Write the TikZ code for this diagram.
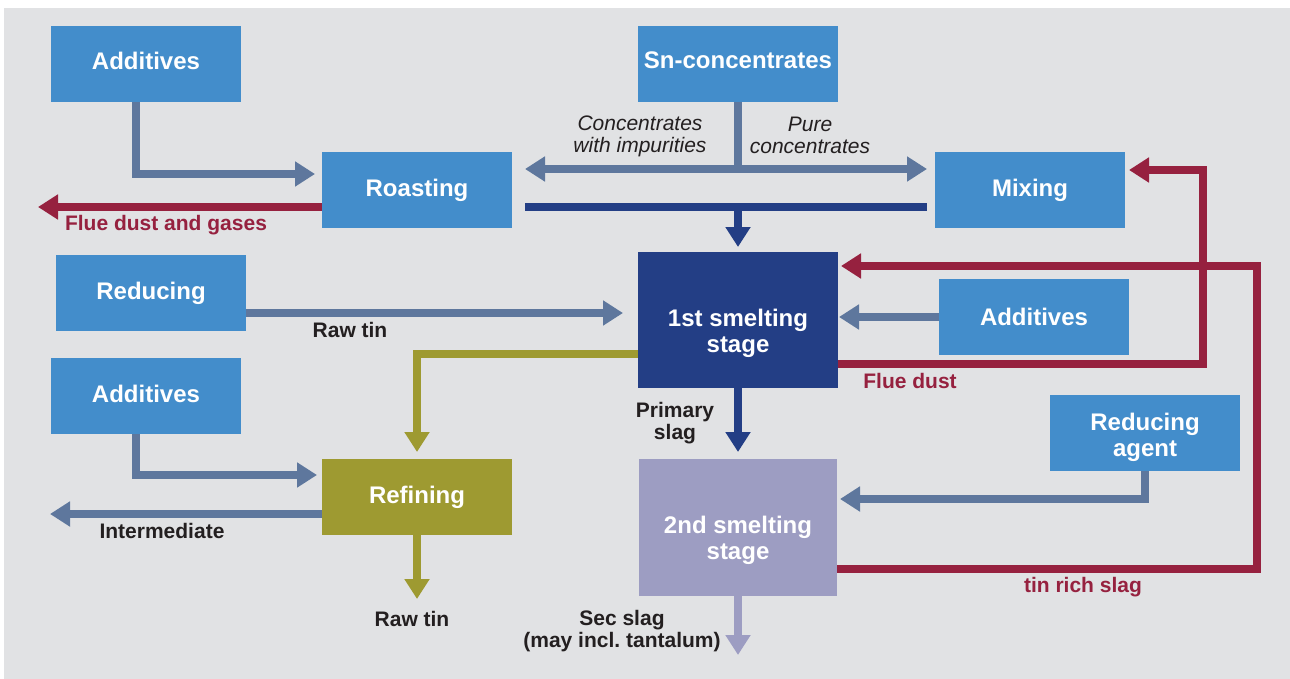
\documentclass[tikz,border=0pt]{standalone}
\usepackage{fontspec}
\setmainfont{Liberation Sans}
\usetikzlibrary{arrows.meta}
\definecolor{bggrey}{HTML}{E1E2E4}
\definecolor{boxblue}{HTML}{438DCB}
\definecolor{navy}{HTML}{233E85}
\definecolor{lavender}{HTML}{9D9DC2}
\definecolor{olive}{HTML}{9E9A31}
\definecolor{flowblue}{HTML}{5E779D}
\definecolor{wine}{HTML}{96213F}
\definecolor{ink}{HTML}{231F20}
\frenchspacing

\begin{document}
\begin{tikzpicture}[x=1pt,y=-1pt,
  box/.style={fill=boxblue, text=white, font=\fontsize{24}{26}\selectfont\bfseries,
    minimum width=190pt, minimum height=76pt, align=center, inner sep=0pt, outer sep=0pt},
  lbl/.style={text=ink, font=\fontsize{21}{22}\selectfont\bfseries, align=center, inner sep=0pt},
  ilbl/.style={lbl, font=\fontsize{21}{22}\selectfont\itshape},
  rlbl/.style={lbl, text=wine},
  tip/.style={-{Triangle[width=24pt,length=20pt]}},
  flow/.style={draw=flowblue, line width=8pt, tip},
  navyflow/.style={draw=navy, line width=8pt, tip},
  redflow/.style={draw=wine, line width=8pt, tip},
  oliveflow/.style={draw=olive, line width=8pt, tip},
  lavflow/.style={draw=lavender, line width=8pt, tip}]
  \def\pushdown#1{\rule{0pt}{#1}}   % pushes box text down
  \def\liftup#1{\rule[-#1]{0pt}{#1}} % lifts box text up
  \fill[white] (0,0) rectangle (1290,679);
  \fill[bggrey] (4,8) rectangle (1290,679);
  \useasboundingbox (0,0) rectangle (1290,679);
  % process boxes
  \node[box] (add1) at (146,64) {\liftup{7pt}Additives};
  \node[box] (roast) at (417,190) {\liftup{3pt}Roasting};
  \node[box, minimum width=200pt] (sn) at (738,64) {\liftup{7pt}Sn-concentrates};
  \node[box] (mix) at (1030,190) {Mixing};
  \node[box, fill=navy, minimum width=200pt, minimum height=136pt] (smelt1) at (738,320) {\pushdown{43.5pt}1st smelting\\stage};
  \node[box] (addR) at (1034,317) {Additives};
  \node[box] (red) at (151,293) {Reducing};
  \node[box] (add2) at (146,396) {\liftup{5pt}Additives};
  \node[box, fill=olive] (refine) at (417,497) {Refining};
  \node[box, fill=lavender, minimum width=198pt, minimum height=137pt] (smelt2) at (738,527.5) {\pushdown{43.5pt}2nd smelting\\stage};
  \node[box] (redag) at (1145,433) {\pushdown{25.5pt}Reducing\\agent};
  % free ends
  \coordinate (split) at (738,169);
  \coordinate (merge) at (738,207);
  \coordinate (gasout) at (38,207);
  \coordinate (interout) at (50,514);
  \coordinate (tinout) at (417,599);
  \coordinate (secout) at (738,655);
  % connectors
  \draw[flow, shorten >=7pt] ([xshift=-10.5pt]add1.south) |- ([yshift=16pt]roast.west);
  \draw[redflow] ([yshift=-17pt]roast.west) -- (gasout);
  \draw[flowblue, line width=8pt] (sn.south) -- (split);
  \draw[flow, shorten >=13pt] (split) -- ([yshift=21pt]roast.east);
  \draw[flow, shorten >=8pt] (split) -- ([yshift=21pt]mix.west);
  \draw[navy, line width=8pt, shorten <=13pt, shorten >=8pt] ([yshift=-17pt]roast.east) -- ([yshift=-17pt]mix.west);
  \draw[navyflow, shorten >=5pt] (merge) -- (smelt1);
  \draw[redflow, shorten >=4pt] ([yshift=-44pt]smelt1.east) -| ([xshift=78pt, yshift=20pt]mix.east) -- ([yshift=20pt]mix.east);
  \draw[redflow, shorten >=3pt] ([yshift=-41.5pt]smelt2.east) -| ([xshift=419pt, yshift=54pt]smelt1.east) -- ([yshift=54pt]smelt1.east);
  \draw[flow, shorten >=1pt] (addR.west) -- (addR.west -| smelt1.east);
  \draw[flow, shorten >=15pt] ([yshift=-20pt]red.east) -- ([yshift=-20pt]red.east -| smelt1.west);
  \draw[oliveflow, shorten >=7pt] ([yshift=-34pt]smelt1.west) -| (refine.north);
  \draw[flow, shorten >=5pt] ([xshift=-10.5pt]add2.south) |- ([yshift=22pt]refine.west);
  \draw[flow] ([yshift=-17pt]refine.west) -- (interout);
  \draw[oliveflow] (refine.south) -- (tinout);
  \draw[navyflow, shorten >=7pt] (smelt1.south) -- (smelt2.north);
  \draw[flow, shorten >=3pt] (redag.south) |- ([yshift=28.5pt]smelt2.east);
  \draw[lavflow] (smelt2.south) -- (secout);
  % labels
  \node[rlbl] (gaslbl) at (166,225) {Flue dust and gases};
  \node[ilbl] (implbl) at (640,136) {Concentrates\\with impurities};
  \node[ilbl] (purelbl) at (810,135) {Pure\\concentrates};
  \node[lbl] (rawlbl1) at (350,330) {Raw tin};
  \node[rlbl] (dustlbl) at (910,381) {Flue dust};
  \node[lbl] (primlbl) at (675,423) {Primary\\slag};
  \node[lbl] (interlbl) at (162,531) {Intermediate};
  \node[lbl] (rawlbl2) at (412,619) {Raw tin};
  \node[lbl] (seclbl) at (622,631) {Sec slag\\(may incl. tantalum)};
  \node[rlbl] (slaglbl) at (1083,587) {tin rich slag};
\end{tikzpicture}
\end{document}
